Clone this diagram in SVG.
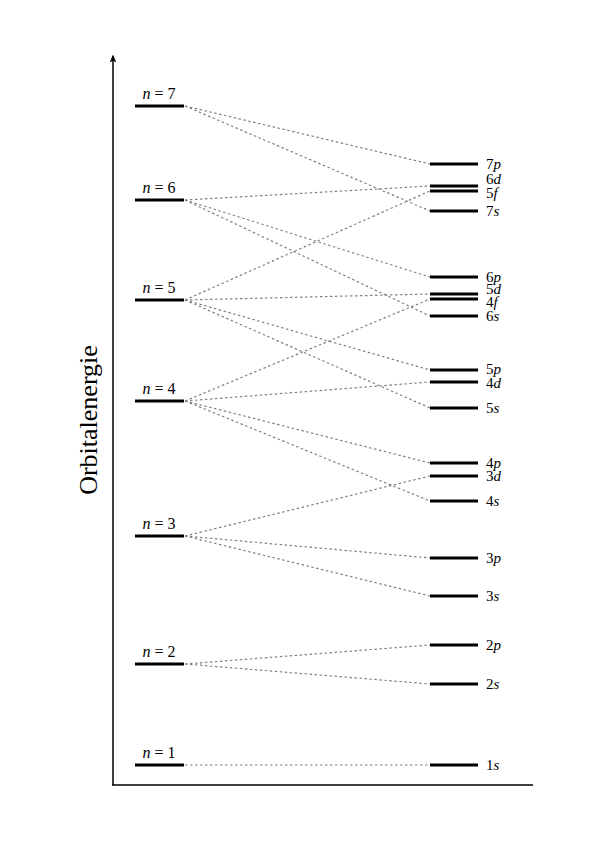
<svg xmlns="http://www.w3.org/2000/svg" width="607" height="843" viewBox="0 0 607 843">
<style>
.lv{stroke:#000;stroke-width:3;fill:none}
.dl{stroke:#808080;stroke-width:1.2;stroke-dasharray:2.5,2.5;fill:none}
.ax{stroke:#000;stroke-width:1.5;fill:none}
text{font-family:"Liberation Serif","DejaVu Serif",serif;fill:#000}
.nl{font-size:16px;text-anchor:middle}
.ol{font-size:15px}
.it{font-style:italic}
</style>
<defs>
<marker id="arr" viewBox="0 0 10 10" refX="8" refY="5" markerWidth="8" markerHeight="8" orient="auto" markerUnits="userSpaceOnUse">
<path d="M0,1 L10,5 L0,9 L2,5 Z" fill="#000"/>
</marker>
</defs>
<rect width="607" height="843" fill="#fff"/>
<g id="axes">
<line class="ax" x1="113" y1="785" x2="113" y2="56" marker-end="url(#arr)"/>
<line class="ax" x1="112" y1="785" x2="533" y2="785"/>
<text x="97" y="420" font-size="26" text-anchor="middle" transform="rotate(-90 97 420)">Orbitalenergie</text>
</g>
<g id="connectors">
<line class="dl" x1="185" y1="106" x2="430" y2="164"/>
<line class="dl" x1="185" y1="106" x2="430" y2="211"/>
<line class="dl" x1="185" y1="200" x2="430" y2="186"/>
<line class="dl" x1="185" y1="200" x2="430" y2="277"/>
<line class="dl" x1="185" y1="200" x2="430" y2="316"/>
<line class="dl" x1="185" y1="300" x2="430" y2="191"/>
<line class="dl" x1="185" y1="300" x2="430" y2="294"/>
<line class="dl" x1="185" y1="300" x2="430" y2="370"/>
<line class="dl" x1="185" y1="300" x2="430" y2="408"/>
<line class="dl" x1="185" y1="401" x2="430" y2="299"/>
<line class="dl" x1="185" y1="401" x2="430" y2="382"/>
<line class="dl" x1="185" y1="401" x2="430" y2="463"/>
<line class="dl" x1="185" y1="401" x2="430" y2="501"/>
<line class="dl" x1="185" y1="536" x2="430" y2="476"/>
<line class="dl" x1="185" y1="536" x2="430" y2="558"/>
<line class="dl" x1="185" y1="536" x2="430" y2="596"/>
<line class="dl" x1="185" y1="664" x2="430" y2="645"/>
<line class="dl" x1="185" y1="664" x2="430" y2="684"/>
<line class="dl" x1="185" y1="765" x2="430" y2="765"/>
</g>
<g id="n7"><line class="lv" x1="135" y1="106" x2="184" y2="106"/><text class="nl" x="159" y="99"><tspan class="it">n</tspan> = 7</text></g>
<g id="n6"><line class="lv" x1="135" y1="200" x2="184" y2="200"/><text class="nl" x="159" y="193"><tspan class="it">n</tspan> = 6</text></g>
<g id="n5"><line class="lv" x1="135" y1="300" x2="184" y2="300"/><text class="nl" x="159" y="293"><tspan class="it">n</tspan> = 5</text></g>
<g id="n4"><line class="lv" x1="135" y1="401" x2="184" y2="401"/><text class="nl" x="159" y="394"><tspan class="it">n</tspan> = 4</text></g>
<g id="n3"><line class="lv" x1="135" y1="536" x2="184" y2="536"/><text class="nl" x="159" y="529"><tspan class="it">n</tspan> = 3</text></g>
<g id="n2"><line class="lv" x1="135" y1="664" x2="184" y2="664"/><text class="nl" x="159" y="657"><tspan class="it">n</tspan> = 2</text></g>
<g id="n1"><line class="lv" x1="135" y1="765" x2="184" y2="765"/><text class="nl" x="159" y="758"><tspan class="it">n</tspan> = 1</text></g>
<g id="o7p"><line class="lv" x1="430" y1="164" x2="478" y2="164"/><text class="ol" x="486" y="169">7<tspan class="it">p</tspan></text></g>
<g id="o6d"><line class="lv" x1="430" y1="186" x2="478" y2="186"/><text class="ol" x="486" y="184">6<tspan class="it">d</tspan></text></g>
<g id="o5f"><line class="lv" x1="430" y1="191" x2="478" y2="191"/><text class="ol" x="486" y="198">5<tspan class="it">f</tspan></text></g>
<g id="o7s"><line class="lv" x1="430" y1="211" x2="478" y2="211"/><text class="ol" x="486" y="216">7<tspan class="it">s</tspan></text></g>
<g id="o6p"><line class="lv" x1="430" y1="277" x2="478" y2="277"/><text class="ol" x="486" y="282">6<tspan class="it">p</tspan></text></g>
<g id="o5d"><line class="lv" x1="430" y1="294" x2="478" y2="294"/><text class="ol" x="486" y="294">5<tspan class="it">d</tspan></text></g>
<g id="o4f"><line class="lv" x1="430" y1="299" x2="478" y2="299"/><text class="ol" x="486" y="307">4<tspan class="it">f</tspan></text></g>
<g id="o6s"><line class="lv" x1="430" y1="316" x2="478" y2="316"/><text class="ol" x="486" y="321">6<tspan class="it">s</tspan></text></g>
<g id="o5p"><line class="lv" x1="430" y1="370" x2="478" y2="370"/><text class="ol" x="486" y="374">5<tspan class="it">p</tspan></text></g>
<g id="o4d"><line class="lv" x1="430" y1="382" x2="478" y2="382"/><text class="ol" x="486" y="388">4<tspan class="it">d</tspan></text></g>
<g id="o5s"><line class="lv" x1="430" y1="408" x2="478" y2="408"/><text class="ol" x="486" y="413">5<tspan class="it">s</tspan></text></g>
<g id="o4p"><line class="lv" x1="430" y1="463" x2="478" y2="463"/><text class="ol" x="486" y="468">4<tspan class="it">p</tspan></text></g>
<g id="o3d"><line class="lv" x1="430" y1="476" x2="478" y2="476"/><text class="ol" x="486" y="481">3<tspan class="it">d</tspan></text></g>
<g id="o4s"><line class="lv" x1="430" y1="501" x2="478" y2="501"/><text class="ol" x="486" y="506">4<tspan class="it">s</tspan></text></g>
<g id="o3p"><line class="lv" x1="430" y1="558" x2="478" y2="558"/><text class="ol" x="486" y="563">3<tspan class="it">p</tspan></text></g>
<g id="o3s"><line class="lv" x1="430" y1="596" x2="478" y2="596"/><text class="ol" x="486" y="601">3<tspan class="it">s</tspan></text></g>
<g id="o2p"><line class="lv" x1="430" y1="645" x2="478" y2="645"/><text class="ol" x="486" y="650">2<tspan class="it">p</tspan></text></g>
<g id="o2s"><line class="lv" x1="430" y1="684" x2="478" y2="684"/><text class="ol" x="486" y="689">2<tspan class="it">s</tspan></text></g>
<g id="o1s"><line class="lv" x1="430" y1="765" x2="478" y2="765"/><text class="ol" x="486" y="770">1<tspan class="it">s</tspan></text></g>
</svg>
